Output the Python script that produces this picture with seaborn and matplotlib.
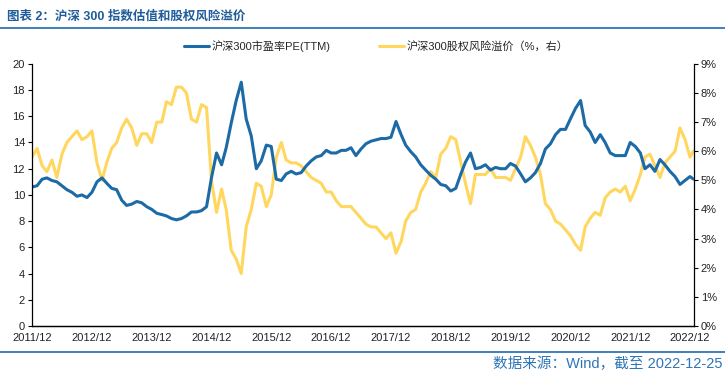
import matplotlib
matplotlib.use("Agg")
import matplotlib.pyplot as plt
import matplotlib.ticker as mticker
from matplotlib.lines import Line2D
import seaborn as sns
import pandas as pd
import numpy as np

# ---- data (monthly, Dec 2011 .. Dec 2022, plus last day) ----
pe_values = [
    10.6, 10.7, 11.2, 11.3, 11.1, 11.0, 10.7, 10.4, 10.2, 9.9, 10.0, 9.8,
    10.2, 11.0, 11.3, 10.9, 10.5, 10.4, 9.6, 9.2, 9.3, 9.5, 9.4, 9.1,
    8.9, 8.6, 8.5, 8.4, 8.2, 8.1, 8.2, 8.4, 8.7, 8.7, 8.8, 9.1,
    11.3, 13.2, 12.3, 13.6, 15.5, 17.2, 18.6, 15.8, 14.5, 12.0, 12.6, 13.8,
    13.7, 11.2, 11.1, 11.6, 11.8, 11.6, 11.7, 12.2, 12.6, 12.9, 13.0, 13.4,
    13.2, 13.2, 13.4, 13.4, 13.6, 13.0, 13.5, 13.9, 14.1, 14.2, 14.3, 14.3,
    14.4, 15.6, 14.6, 13.8, 13.3, 12.9, 12.3, 11.9, 11.5, 11.2, 10.8, 10.7,
    10.3, 10.5, 11.6, 12.5, 13.2, 12.0, 12.1, 12.3, 11.9, 12.1, 12.0, 12.0,
    12.4, 12.2, 11.6, 11.0, 11.3, 11.7, 12.4, 13.5, 13.9, 14.6, 15.0, 15.0,
    15.8, 16.6, 17.2, 15.3, 14.8, 14.0, 14.6, 14.0, 13.2, 13.0, 13.0, 13.0,
    14.0, 13.7, 13.2, 12.0, 12.3, 11.8, 12.7, 12.3, 11.8, 11.4, 10.8, 11.1,
    11.4, 11.2,
]
erp_values = [
    5.8, 6.1, 5.5, 5.3, 5.7, 5.1, 5.9, 6.3, 6.5, 6.7, 6.4, 6.5,
    6.7, 5.6, 5.0, 5.6, 6.1, 6.3, 6.8, 7.1, 6.8, 6.2, 6.6, 6.6,
    6.3, 7.0, 7.0, 7.7, 7.6, 8.2, 8.2, 8.0, 7.1, 7.0, 7.6, 7.5,
    5.0, 3.9, 4.7, 4.0, 2.6, 2.3, 1.8, 3.4, 4.0, 4.9, 4.8, 4.1,
    4.5, 5.8, 6.3, 5.7, 5.6, 5.6, 5.5, 5.3, 5.1, 5.0, 4.9, 4.6,
    4.6, 4.3, 4.1, 4.1, 4.1, 3.9, 3.7, 3.5, 3.4, 3.4, 3.2, 3.0,
    3.2, 2.5, 2.9, 3.6, 3.9, 4.0, 4.6, 4.9, 5.3, 5.1, 5.9, 6.1,
    6.5, 6.4, 5.6, 4.9, 4.2, 5.2, 5.2, 5.2, 5.4, 5.1, 5.1, 5.1,
    5.0, 5.4, 5.8, 6.5, 6.2, 5.8, 5.2, 4.2, 4.0, 3.6, 3.5, 3.3,
    3.1, 2.8, 2.6, 3.4, 3.7, 3.9, 3.8, 4.4, 4.6, 4.7, 4.6, 4.8,
    4.3, 4.7, 5.2, 5.8, 5.9, 5.5, 5.1, 5.6, 5.8, 6.0, 6.8, 6.4,
    5.8, 6.0,
]
dates = list(pd.date_range("2011-12-01", "2022-12-01", freq="MS")) + [pd.Timestamp("2022-12-23")]
tick_dates = pd.date_range("2011-12-01", "2022-12-01", freq="12MS")
tick_labels = [d.strftime("%Y/%m") for d in tick_dates]

title_text = "图表 2：沪深 300 指数估值和股权风险溢价"
source_text = "数据来源：Wind，截至 2022-12-25"
pe_label = "沪深300市盈率PE(TTM)"
erp_label = "沪深300股权风险溢价（%，右）"

df = pd.DataFrame({"date": dates, "pe": pe_values, "erp": erp_values})

# ---- style ----
sns.set_theme(style="white")
plt.rcParams["font.family"] = ["Liberation Sans", "Noto Sans CJK SC", "DejaVu Sans"]
plt.rcParams["axes.unicode_minus"] = False

blue = "#1C6AA6"
yellow = "#FFD75E"
dark_blue = "#1F5C99"

fig = plt.figure(figsize=(7.25, 3.74), dpi=100)
ax = fig.add_axes([0.0441, 0.1283, 0.913, 0.701])
ax2 = ax.twinx()

sns.lineplot(data=df, x="date", y="pe", ax=ax, color=blue, linewidth=2.2, legend=False)
sns.lineplot(data=df, x="date", y="erp", ax=ax2, color=yellow, linewidth=2.2, legend=False)
ax.set_zorder(ax2.get_zorder() + 1)
ax.patch.set_visible(False)

ax.set_xlim(pd.Timestamp("2011-12-01"), pd.Timestamp("2022-12-25"))
ax.set_ylim(0, 20)
ax.set_yticks(range(0, 21, 2))
ax2.set_ylim(0, 9)
ax2.set_yticks(range(0, 10))
ax2.yaxis.set_major_formatter(mticker.FuncFormatter(lambda v, p: f"{int(v)}%"))
ax.set_xticks(tick_dates)
ax.set_xticklabels(tick_labels)
ax.set_xlabel("")
ax.set_ylabel("")
ax2.set_ylabel("")

for a in (ax, ax2):
    for s in a.spines.values():
        s.set_color("black")
        s.set_linewidth(0.9)
    a.spines["top"].set_visible(False)
    a.tick_params(axis="both", which="major", direction="out", length=3, width=0.8,
                  colors="black", labelsize=8, pad=2)
    a.grid(False)
ax.spines["right"].set_visible(False)
ax2.spines["left"].set_visible(False)
for lab in list(ax.get_xticklabels()) + list(ax.get_yticklabels()) + list(ax2.get_yticklabels()):
    lab.set_color("#222222")

# legend
handles = [Line2D([0], [0], color=blue, lw=2.2), Line2D([0], [0], color=yellow, lw=2.2)]
fig.legend(handles, [pe_label, erp_label], loc="center", bbox_to_anchor=(0.519, 0.877),
           ncol=2, frameon=False, fontsize=8, handlelength=2.3, handletextpad=0.25,
           columnspacing=4.3)

# title and source
fig.text(0.01, 0.955, title_text, fontsize=9, color=dark_blue, ha="left", va="center",
         fontweight="bold")
fig.add_artist(Line2D([0.0, 1.0], [0.925, 0.925], color="#2E75B6", lw=1.3, transform=fig.transFigure))
fig.add_artist(Line2D([0.0, 1.0], [0.059, 0.059], color="#2E75B6", lw=1.3, transform=fig.transFigure))
fig.text(0.996, 0.028, source_text, fontsize=10.5, color="#2E75B6", ha="right", va="center")

fig.savefig("out.png", dpi=100)
